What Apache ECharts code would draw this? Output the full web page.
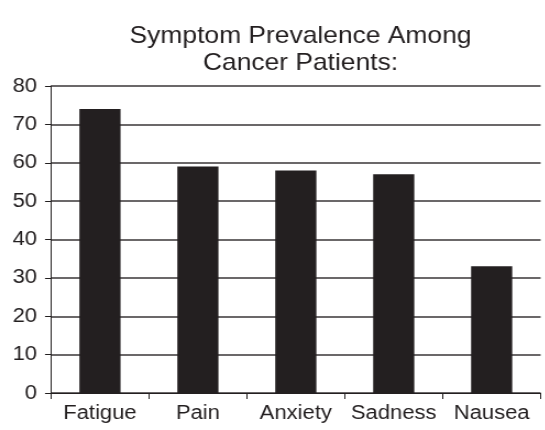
<!DOCTYPE html>
<html>
<head>
<meta charset="utf-8">
<script src="https://cdn.jsdelivr.net/npm/echarts@6/dist/echarts.min.js"></script>
<style>
  html, body { margin: 0; padding: 0; background: #fff; overflow: hidden; }
  /* the chart is laid out on a slightly narrower canvas and widened to 545px,
     which gives the broad lettering of the original figure */
  #chart { width: 496px; height: 430px; transform: scaleX(1.1); transform-origin: 0 0; }
</style>
</head>
<body>
<div id="chart"></div>
<script>
// Symptom prevalence (%) among cancer patients
const categories = ['Fatigue', 'Pain', 'Anxiety', 'Sadness', 'Nausea'];
const prevalence = [74, 59, 58, 57, 33];
const titleLines = ['Symptom Prevalence Among', 'Cancer Patients:'];

const STRETCH = 1.1;
const px = v => v / STRETCH;   // horizontal page pixels -> canvas pixels

const FONT = 'Liberation Sans, Arial, Helvetica, sans-serif';
const INK = '#231f20';
const chart = echarts.init(document.getElementById('chart'), null, { renderer: 'canvas' });

chart.setOption({
  animation: false,
  backgroundColor: '#ffffff',
  title: {
    text: titleLines.join('\n'),
    left: px(295),
    top: 18,
    textAlign: 'center',
    textStyle: {
      fontFamily: FONT,
      fontSize: 24,
      fontWeight: 'normal',
      color: INK,
      lineHeight: 27
    }
  },
  grid: { left: px(51), right: px(5), top: 86, bottom: 37, containLabel: false },
  xAxis: {
    type: 'category',
    data: categories,
    boundaryGap: true,
    axisLine: { show: true, lineStyle: { color: INK, width: 1 } },
    axisTick: { show: true, length: 6, alignWithLabel: false, lineStyle: { color: INK } },
    axisLabel: { fontFamily: FONT, fontSize: 20, color: INK, margin: 10, interval: 0 }
  },
  yAxis: {
    type: 'value',
    min: 0,
    max: 80,
    interval: 10,
    axisLine: { show: true, lineStyle: { color: INK, width: 1 } },
    axisTick: { show: true, length: px(6), lineStyle: { color: INK } },
    axisLabel: { fontFamily: FONT, fontSize: 20, color: INK, margin: px(14) },
    splitLine: { show: true, lineStyle: { color: '#3a3637', width: 1.5 } }
  },
  series: [{
    type: 'bar',
    data: prevalence,
    barWidth: '42%',
    itemStyle: { color: INK }
  }]
});
</script>
</body>
</html>
